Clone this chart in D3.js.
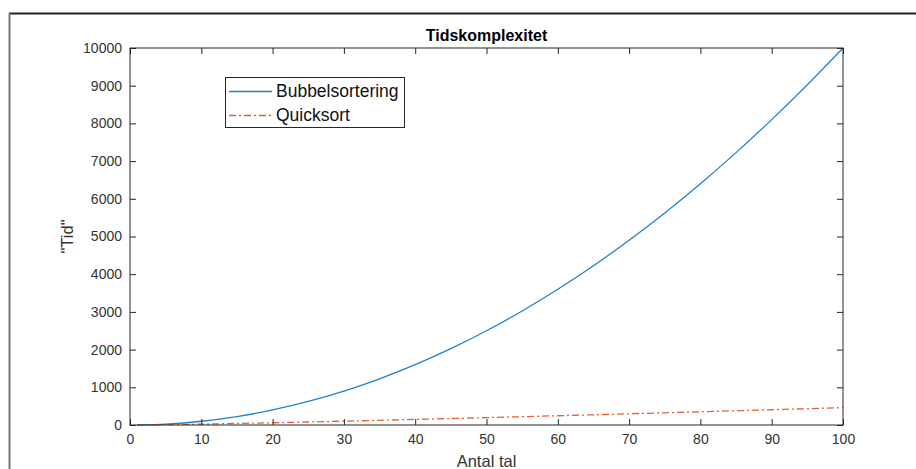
<!DOCTYPE html>
<html>
<head>
<meta charset="utf-8">
<script src="https://cdn.jsdelivr.net/npm/d3@7"></script>
<style>
  body { margin: 0; background: #fff; }
  svg { display: block; font-family: "Liberation Sans", Arial, sans-serif; }
</style>
</head>
<body>
<svg id="chart"></svg>
<script>
// values
var antal = [1, 5, 10, 15, 20, 25, 30, 35, 40, 45, 50, 55, 60, 65, 70, 75, 80, 85, 90, 95, 100];
var bubbel = [1, 25, 100, 225, 400, 625, 900, 1225, 1600, 2025, 2500, 3025, 3600, 4225, 4900, 5625, 6400, 7225, 8100, 9025, 10000];
var quick = [0, 8, 23, 41, 60, 80, 102, 124, 148, 171, 196, 220, 246, 271, 297, 324, 351, 378, 405, 433, 460];
var xTicks = [0, 10, 20, 30, 40, 50, 60, 70, 80, 90, 100];
var yTicks = [0, 1000, 2000, 3000, 4000, 5000, 6000, 7000, 8000, 9000, 10000];

var w = 916, h = 469;
var svg = d3.select("svg#chart")
            .attr("width", w)
            .attr("height", h);

var margins = {left: 130, right: 73, top: 48, bottom: 44};
var width = w - margins.left - margins.right;
var height = h - margins.top - margins.bottom;

var xScale = d3.scaleLinear().domain([0, 100]).range([0, width]);
var yScale = d3.scaleLinear().domain([0, 10000]).range([height, 0]);

// outer window frame
svg.append("line").attr("x1", 9).attr("x2", w).attr("y1", 13.5).attr("y2", 13.5)
   .attr("stroke", "#222").attr("stroke-width", 2);
svg.append("line").attr("x1", 9.5).attr("x2", 9.5).attr("y1", 13).attr("y2", h)
   .attr("stroke", "#777").attr("stroke-width", 2);

var plot = svg.append("g")
              .attr("transform", "translate(" + margins.left + "," + margins.top + ")");

var line = d3.line()
             .x(function(d) { return xScale(d[0]); })
             .y(function(d) { return yScale(d[1]); })
             .curve(d3.curveMonotoneX);

var blue = "#1f82cc", orange = "#e0642e";

plot.append("path")
    .datum(d3.zip(antal, bubbel))
    .attr("d", line)
    .attr("fill", "none")
    .attr("stroke", blue)
    .attr("stroke-width", 1.3);

plot.append("path")
    .datum(d3.zip(antal, quick))
    .attr("d", line)
    .attr("fill", "none")
    .attr("stroke", orange)
    .attr("stroke-width", 1.3)
    .attr("stroke-dasharray", "7,3,2,3");

// axes with inward ticks, box on
var tickColor = "#262626";
function styleAxis(g) {
  g.attr("font-size", 14);
  g.select(".domain").remove();
  g.selectAll(".tick line").attr("stroke", tickColor);
  g.selectAll("text").attr("fill", "#333");
}
plot.append("g").attr("transform", "translate(0," + height + ")")
    .call(d3.axisBottom(xScale).tickValues(xTicks).tickSizeInner(-6).tickSizeOuter(0).tickPadding(9))
    .call(styleAxis);
plot.append("g")
    .call(d3.axisTop(xScale).tickValues(xTicks).tickSizeInner(-6).tickSizeOuter(0).tickFormat(""))
    .call(styleAxis);
plot.append("g")
    .call(d3.axisLeft(yScale).tickValues(yTicks).tickSizeInner(-6).tickSizeOuter(0).tickPadding(8)
            .tickFormat(d3.format("d")))
    .call(styleAxis);
plot.append("g").attr("transform", "translate(" + width + ",0)")
    .call(d3.axisRight(yScale).tickValues(yTicks).tickSizeInner(-6).tickSizeOuter(0).tickFormat(""))
    .call(styleAxis);

plot.append("rect")
    .attr("x", 0).attr("y", 0).attr("width", width).attr("height", height)
    .attr("fill", "none").attr("stroke", tickColor).attr("stroke-width", 1);

// title and labels
svg.append("text")
   .attr("x", margins.left + width / 2).attr("y", 41)
   .attr("text-anchor", "middle").attr("font-weight", "bold").attr("font-size", 16)
   .attr("fill", "#000").text("Tidskomplexitet");
svg.append("text")
   .attr("x", margins.left + width / 2).attr("y", 467)
   .attr("text-anchor", "middle").attr("font-size", 16.5)
   .attr("fill", "#333").text("Antal tal");
svg.append("text")
   .attr("transform", "translate(73," + (margins.top + height / 2) + ") rotate(-90)")
   .attr("text-anchor", "middle").attr("font-size", 16.5)
   .attr("fill", "#333").text("\"Tid\"");

// legend
var legend = svg.append("g").attr("transform", "translate(225,77)");
legend.append("rect")
      .attr("x", 0.5).attr("y", 0.5).attr("width", 179).attr("height", 50)
      .attr("fill", "#fff").attr("stroke", tickColor).attr("stroke-width", 1);
var series = [
  {name: "Bubbelsortering", color: blue, dash: "none"},
  {name: "Quicksort", color: orange, dash: "7,3,2,3"}
];
var rows = legend.selectAll("g.row")
                 .data(series)
                 .enter()
                 .append("g")
                 .attr("class", "row")
                 .attr("transform", function(d, i) { return "translate(0," + (14 + 24 * i) + ")"; });
rows.append("path")
    .attr("d", "M4,0.5H47")
    .attr("fill", "none")
    .attr("stroke-width", 1.3)
    .style("stroke", function(d) { return d.color; })
    .style("stroke-dasharray", function(d) { return d.dash; });
rows.append("text")
    .attr("x", 51).attr("y", 6)
    .attr("font-size", 17.5).attr("fill", "#111")
    .text(function(d) { return d.name; });
</script>
</body>
</html>
